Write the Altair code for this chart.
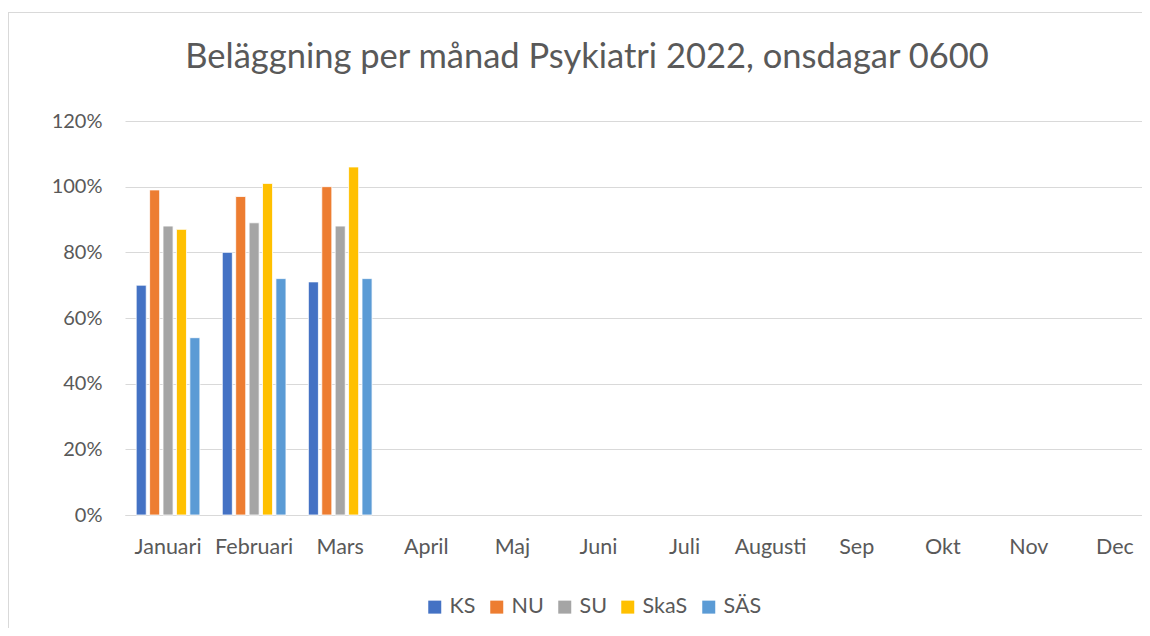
import altair as alt
import pandas as pd

months = ["Januari", "Februari", "Mars", "April", "Maj", "Juni", "Juli",
          "Augusti", "Sep", "Okt", "Nov", "Dec"]
units = ["KS", "NU", "SU", "SkaS", "SÄS"]
colors = ["#4472C4", "#ED7D31", "#A5A5A5", "#FFC000", "#5B9BD5"]

data_months = ["Januari", "Februari", "Mars"]
ks = [0.70, 0.80, 0.71]
nu = [0.99, 0.97, 1.00]
su = [0.88, 0.89, 0.88]
skas = [0.87, 1.01, 1.06]
sas = [0.54, 0.72, 0.72]

title_text = "Beläggning per månad Psykiatri 2022, onsdagar 0600"

series = {"KS": ks, "NU": nu, "SU": su, "SkaS": skas, "SÄS": sas}
rows = []
for u in units:
    for m, v in zip(data_months, series[u]):
        rows.append({"month": m, "unit": u, "value": v})
df = pd.DataFrame(rows)

FONT = "Lato"
TXT = "#595959"
GRID = "#D9D9D9"

W = 1017
H = 394

bars = alt.Chart(df).mark_bar(stroke="white", strokeWidth=0.8).encode(
    x=alt.X("month:N", sort=months,
            scale=alt.Scale(domain=months, range=[0, 1033],
                            paddingInner=0.26, paddingOuter=0.13),
            axis=alt.Axis(title=None, labelAngle=0, labelFont=FONT,
                          labelFontSize=21.5, labelColor=TXT, ticks=False,
                          labelPadding=21, domainColor=GRID, domainWidth=1,
                          grid=False)),
    xOffset=alt.XOffset("unit:N", sort=units,
                        scale=alt.Scale(domain=units, paddingInner=0.25,
                                        paddingOuter=0)),
    y=alt.Y("value:Q",
            scale=alt.Scale(domain=[0, 1.2], nice=False),
            axis=alt.Axis(title=None, format=".0%",
                          values=[0, 0.2, 0.4, 0.6, 0.8, 1.0, 1.2],
                          labelFont=FONT, labelFontSize=20, labelColor=TXT,
                          ticks=False, domain=False, labelPadding=23,
                          gridColor=GRID, gridWidth=1)),
    color=alt.Color("unit:N", sort=units,
                    scale=alt.Scale(domain=units, range=colors),
                    legend=alt.Legend(title=None, orient="none",
                                      direction="horizontal",
                                      legendX=299, legendY=475,
                                      symbolType="square", symbolSize=169,
                                      symbolStrokeWidth=0,
                                      labelFont=FONT, labelFontSize=21.5,
                                      labelColor=TXT, labelOffset=4,
                                      columnPadding=10)),
)

one = pd.DataFrame({"t": [title_text]})

title = alt.Chart(one).mark_text(font=FONT, fontSize=34.5, color=TXT,
                                 align="center", baseline="middle").encode(
    text="t:N", x=alt.value(462), y=alt.value(-63))

frame_left = alt.Chart(one).mark_rule(color=GRID, strokeWidth=1).encode(
    x=alt.value(-116.5), y=alt.value(-109), y2=alt.value(507))
frame_top = alt.Chart(one).mark_rule(color=GRID, strokeWidth=1).encode(
    x=alt.value(-117), x2=alt.value(W), y=alt.value(-108.5))

chart = alt.layer(frame_left, frame_top, bars, title).properties(
    width=W, height=H,
    autosize=alt.AutoSizeParams(type="none"),
    padding={"left": 117, "top": 113, "right": 0, "bottom": 113},
).configure_view(stroke=None)

chart.save("out.html", embed_options={"renderer": "svg", "actions": False})
